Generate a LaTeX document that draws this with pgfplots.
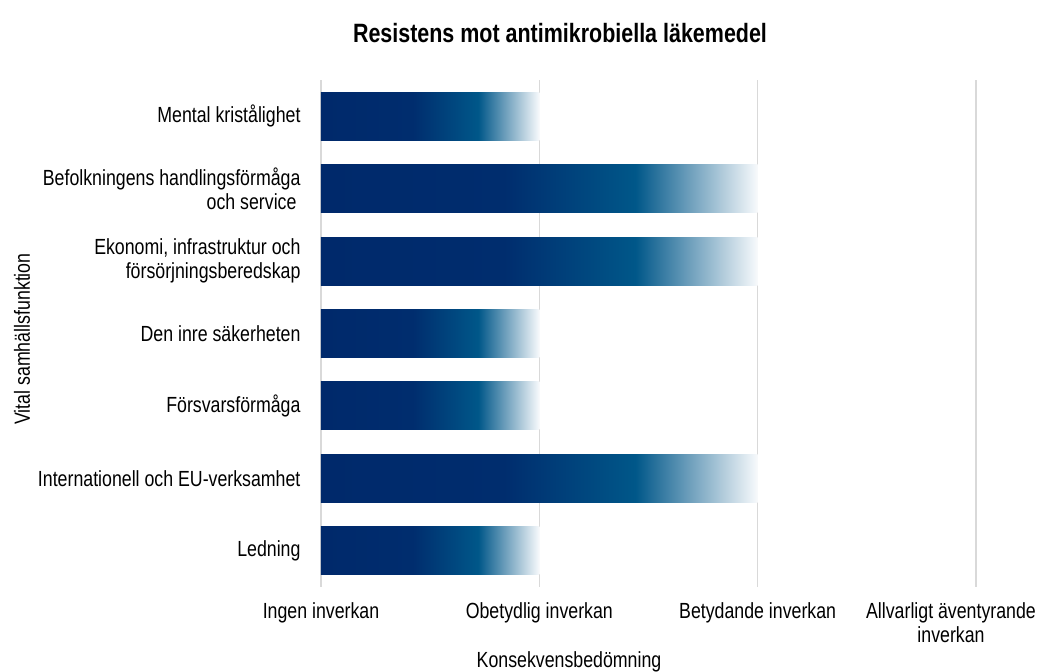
\documentclass[border=0pt]{standalone}
\usepackage{fontspec}
\setmainfont{Liberation Sans}[FakeStretch=0.81]
\usepackage{pgfplots}
\pgfplotsset{compat=1.18}
\definecolor{navyA}{RGB}{0,41,107}
\definecolor{navyB}{RGB}{0,45,110}
\definecolor{tealC}{RGB}{0,87,137}
\definecolor{endW}{RGB}{248,250,252}
\pgfdeclarehorizontalshading{barshade}{100bp}{color(0bp)=(navyA); color(25bp)=(navyA); color(46bp)=(navyB); color(61bp)=(tealC); color(75bp)=(endW); color(100bp)=(endW)}
\begin{document}
\begin{tikzpicture}
\begin{axis}[
  at={(0,0)}, anchor=south west,
  scale only axis, width=655bp, height=507bp,
  xmin=0, xmax=3, ymin=-0.5, ymax=6.5, y dir=reverse,
  xtick={0,1,2},
  xticklabels={Ingen inverkan, Obetydlig inverkan, Betydande inverkan},
  extra x ticks={3},
  extra x tick labels={{Allvarligt äventyrande\\inverkan}},
  extra x tick style={grid=major, xticklabel style={xshift=-25bp}},
  ytick={0,1,2,3,4,5,6},
  yticklabels={Mental kristålighet, {Befolkningens handlingsförmåga\\och service\hspace*{4bp}}, {Ekonomi, infrastruktur och\\försörjningsberedskap}, Den inre säkerheten, Försvarsförmåga, Internationell och EU-verksamhet, Ledning},
  xmajorgrids, major grid style={draw=black!15, line width=1.6bp},
  axis line style={draw=none},
  major tick length=0pt,
  tick label style={font=\fontsize{22}{24}\selectfont},
  xticklabel style={align=center, anchor=north, yshift=-12bp},
  yticklabel style={align=right, anchor=east, xshift=-17bp},
  bar width=48bp, bar shift=0pt,
]
\addplot[xbar, bar shift=0pt, draw=none, shading=barshade] coordinates {(1,0)};
\addplot[xbar, bar shift=0pt, draw=none, shading=barshade] coordinates {(2,1)};
\addplot[xbar, bar shift=0pt, draw=none, shading=barshade] coordinates {(2,2)};
\addplot[xbar, bar shift=0pt, draw=none, shading=barshade] coordinates {(1,3)};
\addplot[xbar, bar shift=0pt, draw=none, shading=barshade] coordinates {(1,4)};
\addplot[xbar, bar shift=0pt, draw=none, shading=barshade] coordinates {(2,5)};
\addplot[xbar, bar shift=0pt, draw=none, shading=barshade] coordinates {(1,6)};
\end{axis}
\node[font=\fontsize{26.6}{28}\selectfont\bfseries] at (239bp,554bp) {Resistens mot antimikrobiella läkemedel};
\node[font=\fontsize{22}{24}\selectfont] at (248bp,-75bp) {Konsekvensbedömning};
\node[rotate=90, font=\fontsize{22}{24}\selectfont] at (-299bp,248bp) {Vital samhällsfunktion};
\pgfresetboundingbox
\useasboundingbox (-321bp,-85bp) rectangle (721bp,587bp);
\end{tikzpicture}
\end{document}
